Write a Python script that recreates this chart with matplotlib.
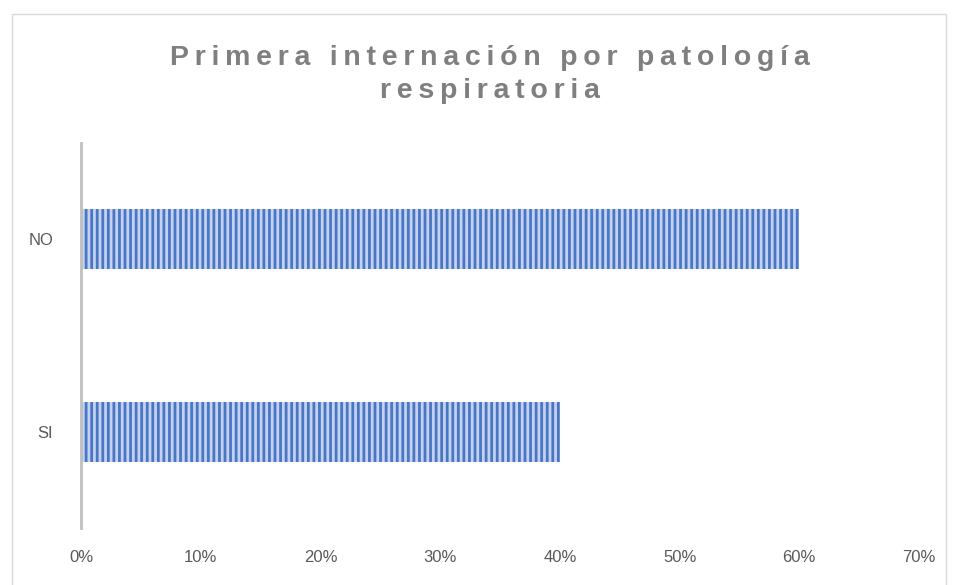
import matplotlib.pyplot as plt
from matplotlib.patches import Rectangle
from matplotlib.ticker import PercentFormatter

categories = ["SI", "NO"]
values = [40, 60]
x_ticks = [0, 10, 20, 30, 40, 50, 60, 70]
title = "Primera internación por patología\nrespiratoria"

GREY = "#595959"

plt.rcParams["font.family"] = ["Liberation Sans", "DejaVu Sans"]
plt.rcParams["hatch.linewidth"] = 2.0

fig = plt.figure(figsize=(9.58, 5.85), dpi=100)
ax = fig.add_axes([0.0846, 0.0974, 0.8747, 0.6581])

ax.barh(categories, values, height=0.31, color="#c3d3ef",
        edgecolor="#4a76c6", hatch="|||", linewidth=0)

ax.set_xlim(0, 70)
ax.set_ylim(-0.5, 1.5)
ax.set_xticks(x_ticks)
ax.xaxis.set_major_formatter(PercentFormatter(decimals=0))
ax.tick_params(length=0, labelsize=12, labelcolor=GREY)
ax.tick_params(axis="x", pad=16)
ax.tick_params(axis="y", pad=20)

for s in ["top", "right", "bottom"]:
    ax.spines[s].set_visible(False)
ax.spines["left"].set_color("#bfbfbf")
ax.spines["left"].set_linewidth(2)

# spaced-out title, like the original
spaced = "\n".join("\u2009".join(line) for line in title.split("\n"))
fig.text(0.511, 0.872, spaced, ha="center", va="center", fontsize=20.5,
         fontweight="bold", color="#7f7f7f", linespacing=1.35)

# outer chart frame
fig.add_artist(Rectangle((12 / 958, -0.01), 934 / 958, 1 - 14 / 585 + 0.01,
                         transform=fig.transFigure, fill=False,
                         edgecolor="#d9d9d9", linewidth=1))

fig.savefig("out.png", dpi=100)
